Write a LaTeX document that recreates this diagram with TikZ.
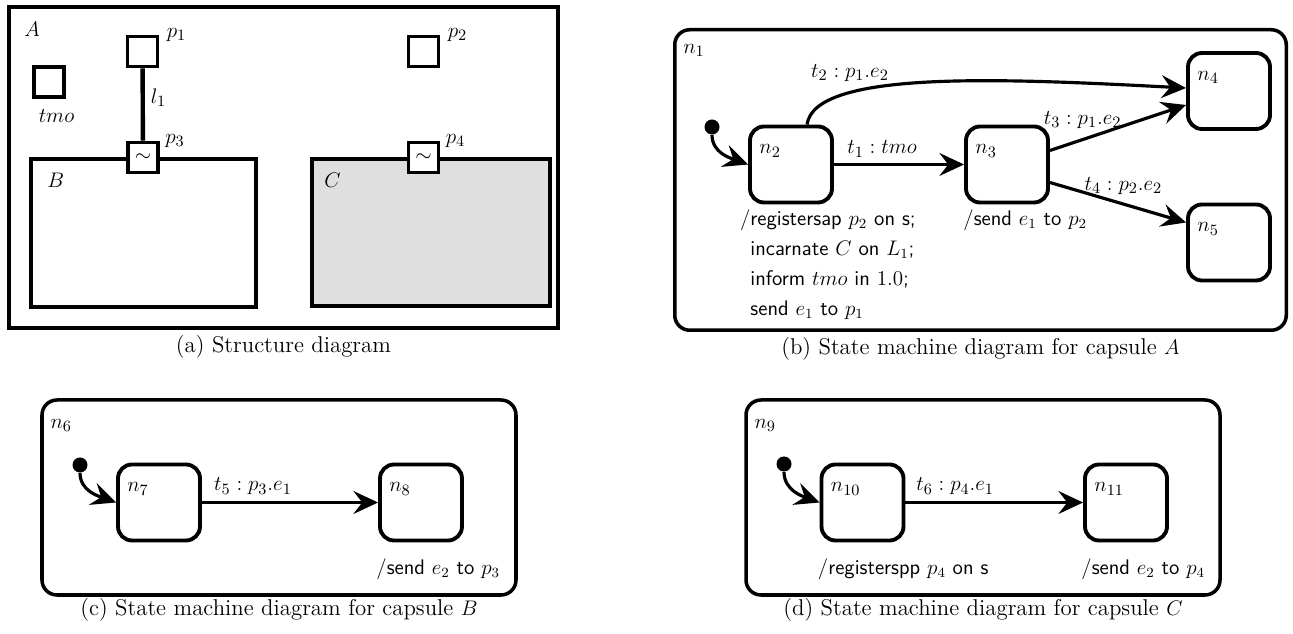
\documentclass[tikz,border=0pt]{standalone}
\usepackage{amsmath}
\usepackage{xcolor}
\usepackage{tikz}
\usetikzlibrary{arrows.meta,positioning}

\begin{document}
\begin{tikzpicture}[
  capsule/.style={rectangle, draw, line width=2.2pt, inner sep=0pt},
  port/.style={rectangle, draw, line width=2.2pt, fill=white, minimum size=0.6cm, inner sep=0pt, font=\fontsize{12.5}{15}\selectfont},
  panel/.style={rectangle, rounded corners=0.3cm, draw, line width=2pt},
  smstate/.style={rectangle, rounded corners=0.28cm, draw, line width=2.2pt, minimum width=1.64cm, minimum height=1.52cm},
  init/.style={circle, fill=black, inner sep=0pt, minimum size=0.3cm},
  lbl/.style={inner sep=0pt, font=\fontsize{12.5}{15}\selectfont},
  tlabel/.style={font=\fontsize{12.5}{15}\selectfont},
  action/.style={inner sep=0pt, align=left, font=\sffamily\fontsize{12}{17}\selectfont},
  caption/.style={inner sep=0pt, font=\fontsize{13}{16}\selectfont},
  trans/.style={-{Stealth[length=14pt, width=13pt, inset=5pt]}, line width=1.8pt},
  >=Stealth
]
  \useasboundingbox (0,0) rectangle (25.86,12.68);

  % (a) structure of capsule A
  \node[capsule, line width=2.5pt, minimum width=10.97cm, minimum height=6.41cm] (capA) at (5.67, 9.33) {};
  \node[lbl, below right=0.34cm and 0.34cm of capA.north west] (lblA) {$A$};
  \node[port] (tmo) at (0.98, 11.04) {};
  \node[lbl, below=0.2cm of tmo, xshift=0.15cm] (lbltmo) {$tmo$};
  \node[port] (p1) at (2.85, 11.65) {};
  \node[lbl, right=0.14cm of p1.north east] (lblp1) {$p_1$};
  \node[port] (p2) at (8.47, 11.65) {};
  \node[lbl, right=0.14cm of p2.north east] (lblp2) {$p_2$};

  \node[capsule, minimum width=4.5cm, minimum height=2.96cm] (B) at (2.87, 8.02) {};
  \node[lbl, below right=0.32cm and 0.36cm of B.north west] (lblB) {$B$};
  \node[capsule, fill=gray!25, minimum width=4.76cm, minimum height=2.94cm] (C) at (8.62, 8.03) {};
  \node[lbl, below right=0.32cm and 0.28cm of C.north west] (lblC) {$C$};

  \node[port] (p3) at (2.86, 9.53) {$\sim$};
  \node[lbl, right=0.1cm of p3.north east] (lblp3) {$p_3$};
  \node[port] (p4) at (8.47, 9.53) {$\sim$};
  \node[lbl, right=0.1cm of p4.north east] (lblp4) {$p_4$};

  \draw[line width=2.5pt] (p1) -- node[lbl, right=0.12cm, pos=0.41] (lbll1) {$l_1$} (p3);

  \node[caption, below=0.1cm of capA] (capa) {(a) Structure diagram};

  % (b) state machine of A
  \node[panel, minimum width=12.23cm, minimum height=6.01cm] (n1) at (19.61, 9.08) {};
  \node[lbl, below right=0.32cm and 0.2cm of n1.north west] (lbln1) {$n_1$};
  \node[init] (i1) at (14.24, 10.14) {};
  \node[smstate] (n2) at (15.82, 9.39) {};
  \node[smstate] (n3) at (20.14, 9.39) {};
  \node[smstate] (n4) at (24.58, 10.86) {};
  \node[smstate] (n5) at (24.58, 7.83) {};
  \node[lbl, below right=0.4cm and 0.22cm of n2.north west] (lbln2) {$n_2$};
  \node[lbl, below right=0.4cm and 0.22cm of n3.north west] (lbln3) {$n_3$};
  \node[lbl, below right=0.4cm and 0.22cm of n4.north west] (lbln4) {$n_4$};
  \node[lbl, below right=0.4cm and 0.22cm of n5.north west] (lbln5) {$n_5$};

  \draw[trans] (i1) to[out=-90, in=160] (n2.west);
  \path[trans]
    (n2) edge node[tlabel, above, pos=0.37] (t1) {$t_1 : tmo$} (n3)
    ([xshift=0.32cm]n2.north) edge[out=82, in=177, out looseness=0.37, in looseness=1.25] ([yshift=0.06cm]n4.west)
    ([yshift=0.28cm]n3.east) edge node[tlabel, above=2pt, pos=0.24] (t3) {$t_3 : p_1.e_2$} ([yshift=-0.28cm]n4.west)
    ([yshift=-0.36cm]n3.east) edge node[tlabel, above=1pt, pos=0.54] (t4) {$t_4 : p_2.e_2$} ([yshift=0.4cm]n5.west);
  \node[tlabel] (t2) at (17.0, 11.22) {$t_2 : p_1.e_2$};

  \node[action, below right=0.1cm and 0.04cm of n2.south west] (a2)
    {\llap{/}registersap $p_2$ on s;\\incarnate $C$ on $L_1$;\\inform $tmo$ in $1.0$;\\send $e_1$ to $p_1$};
  \node[action, below right=0.1cm and -0.02cm of n3.south west] (a3) {/send $e_1$ to $p_2$};

  \node[caption, below=0.1cm of n1] (capb) {(b) State machine diagram for capsule $A$};

  % (c) state machine of B
  \node[panel, minimum width=9.48cm, minimum height=3.9cm] (n6) at (5.58, 2.73) {};
  \node[lbl, below right=0.42cm and 0.2cm of n6.north west] (lbln6) {$n_6$};
  \node[init] (i6) at (1.6, 3.38) {};
  \node[smstate] (n7) at (3.18, 2.63) {};
  \node[smstate] (n8) at (8.42, 2.63) {};
  \node[lbl, below right=0.4cm and 0.22cm of n7.north west] (lbln7) {$n_7$};
  \node[lbl, below right=0.4cm and 0.22cm of n8.north west] (lbln8) {$n_8$};
  \draw[trans] (i6) to[out=-90, in=160] (n7.west);
  \path[trans]
    (n7) edge node[tlabel, above, pos=0.29] (t5) {$t_5 : p_3.e_1$} (n8);
  \node[action, below right=0.32cm and -0.04cm of n8.south west] (a8) {/send $e_2$ to $p_3$};
  \node[caption, below=0.02cm of n6] (capc) {(c) State machine diagram for capsule $B$};

  % (d) state machine of C
  \node[panel, minimum width=9.48cm, minimum height=3.9cm] (n9) at (19.66, 2.73) {};
  \node[lbl, below right=0.42cm and 0.2cm of n9.north west] (lbln9) {$n_9$};
  \node[init] (i9) at (15.68, 3.4) {};
  \node[smstate] (n10) at (17.25, 2.63) {};
  \node[smstate] (n11) at (22.52, 2.63) {};
  \node[lbl, below right=0.4cm and 0.22cm of n10.north west] (lbln10) {$n_{10}$};
  \node[lbl, below right=0.4cm and 0.22cm of n11.north west] (lbln11) {$n_{11}$};
  \draw[trans] (i9) to[out=-90, in=160] (n10.west);
  \path[trans]
    (n10) edge node[tlabel, above, pos=0.28] (t6) {$t_6 : p_4.e_1$} (n11);
  \node[action, below right=0.32cm and -0.04cm of n10.south west] (a10) {/registerspp $p_4$ on s};
  \node[action, below right=0.32cm and -0.04cm of n11.south west] (a11) {/send $e_2$ to $p_4$};
  \node[caption, below=0.02cm of n9] (capd) {(d) State machine diagram for capsule $C$};
\end{tikzpicture}
\end{document}
